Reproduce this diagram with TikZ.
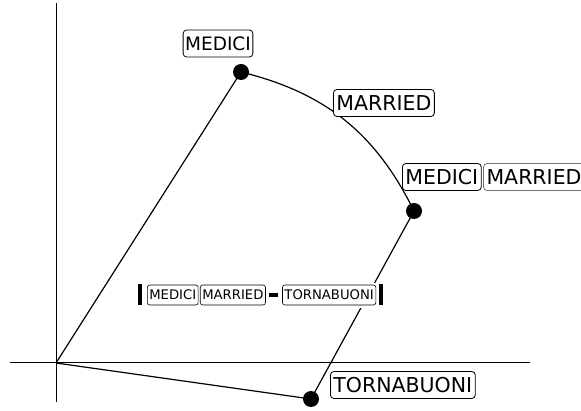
\documentclass[tikz,border=0pt]{standalone}
\usepackage{fontspec}
\setmainfont{DejaVu Sans}
\begin{document}
\begin{tikzpicture}[x=1pt,y=-1pt,
  lbl/.style={draw, rounded corners=3.5pt, fill=white, inner xsep=3pt, inner ysep=2pt, minimum height=27pt, line width=0.8pt, font=\fontsize{20.5}{21}\selectfont},
  slbl/.style={draw, rounded corners=2.5pt, fill=white, inner xsep=2pt, inner ysep=1pt, minimum height=20pt, line width=0.6pt, font=\fontsize{13.2}{14}\selectfont},
  dot/.style={circle, fill=black, minimum size=16pt, inner sep=0pt},
  bar/.style={fill=black, minimum width=4pt, minimum height=21pt, inner sep=0pt},
  axis/.style={line width=1pt},
  edge/.style={line width=1.2pt}]
\useasboundingbox (0,0) rectangle (581,411);
% axes
\coordinate (O) at (56,363);
\coordinate (ytop) at (56,3);
\coordinate (ybot) at (56,402);
\coordinate (xl) at (10,363);
\coordinate (xr) at (530,363);
\draw[axis] (ytop) -- (ybot);
\draw[axis] (xl) -- (xr);
% points
\node[dot] (med) at (241,72) {};
\node[dot] (mm) at (414,211) {};
\node[dot] (tor) at (311,399) {};
% edges
\draw[edge] (O) -- (med.center);
\draw[edge] (O) -- (tor.center);
\draw[edge] (tor.center) -- (mm.center);
\draw[edge] (med.center) to[bend left=25] (mm.center);
% labels
\node[lbl, inner xsep=2pt, font=\fontsize{18.5}{19}\selectfont] (lmed) at (218,43.5) {MEDICI};
\node[lbl, anchor=west] (lmar) at (333,103) {MARRIED};
\node[lbl, anchor=west] (lmm1) at (402,177) {MEDICI};
\node[lbl, draw=black!55, anchor=west] (lmm2) at ([xshift=1.5pt]lmm1.east) {MARRIED};
\node[lbl, anchor=west] (ltor) at (330,385) {TORNABUONI};
% middle composite label
\fill[white] (135,283) rectangle (389,308);
\node[bar] (b1) at (139.5,295) {};
\node[slbl, anchor=west] (s1) at (147,295) {MEDICI};
\node[slbl, anchor=west] (s2) at ([xshift=1.5pt]s1.east) {MARRIED};
\node[fill=black, minimum width=9pt, minimum height=4pt, inner sep=0pt, anchor=west] (dash) at ([xshift=3.5pt]s2.east) {};
\node[slbl, anchor=west] (s3) at ([xshift=3.5pt]dash.east) {TORNABUONI};
\node[bar, anchor=west] (b2) at ([xshift=3pt]s3.east) {};
\end{tikzpicture}
\end{document}
